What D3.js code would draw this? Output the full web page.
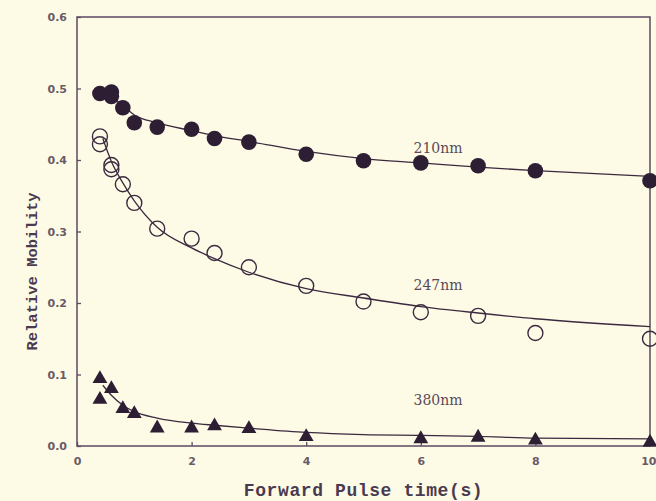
<!DOCTYPE html>
<html>
<head>
<meta charset="utf-8">
<script src="https://cdn.jsdelivr.net/npm/d3@7"></script>
<style>
  body { margin: 0; background: #fdfbe6; }
  svg { display: block; }
</style>
</head>
<body>
<svg></svg>
<script>
var width = 656;
var height = 501;
var ink = "#3b2a3f";
var frameColor = "#5e4a62";

// 210nm - filled circles
var x210 = [0.4, 0.6, 0.6, 0.8, 1.0, 1.4, 2.0, 2.4, 3.0, 4.0, 5.0, 6.0, 7.0, 8.0, 10.0];
var y210 = [0.493, 0.495, 0.489, 0.473, 0.452, 0.446, 0.443, 0.430, 0.425, 0.408, 0.399, 0.396, 0.392, 0.385, 0.371];
// 247nm - open circles
var x247 = [0.4, 0.4, 0.6, 0.6, 0.8, 1.0, 1.4, 2.0, 2.4, 3.0, 4.0, 5.0, 6.0, 7.0, 8.0, 10.0];
var y247 = [0.433, 0.422, 0.393, 0.387, 0.366, 0.340, 0.304, 0.290, 0.270, 0.250, 0.224, 0.202, 0.187, 0.182, 0.158, 0.150];
// 380nm - filled triangles
var x380 = [0.4, 0.4, 0.6, 0.8, 1.0, 1.4, 2.0, 2.4, 3.0, 4.0, 6.0, 7.0, 8.0, 10.0];
var y380 = [0.094, 0.065, 0.080, 0.052, 0.045, 0.025, 0.025, 0.028, 0.024, 0.013, 0.010, 0.012, 0.008, 0.005];

// fitted curves
var fit210x = [0.6, 0.8, 1.0, 1.4, 2.0, 2.4, 3.0, 4.0, 5.0, 6.0, 7.0, 8.0, 10.0];
var fit210y = [0.490, 0.476, 0.463, 0.452, 0.441, 0.434, 0.426, 0.412, 0.402, 0.396, 0.390, 0.385, 0.377];
var fit247x = [0.45, 0.6, 0.8, 1.0, 1.4, 2.0, 2.4, 3.0, 4.0, 5.0, 6.0, 7.0, 8.0, 10.0];
var fit247y = [0.430, 0.398, 0.368, 0.343, 0.306, 0.277, 0.262, 0.243, 0.220, 0.207, 0.195, 0.186, 0.178, 0.167];
var fit380x = [0.45, 0.6, 0.8, 1.0, 1.4, 2.0, 2.4, 3.0, 4.0, 5.0, 6.0, 7.0, 8.0, 10.0];
var fit380y = [0.085, 0.071, 0.057, 0.048, 0.039, 0.032, 0.029, 0.025, 0.019, 0.016, 0.015, 0.0135, 0.011, 0.010];

var xTicks = [0, 2, 4, 6, 8, 10];
var yTicks = [0.0, 0.1, 0.2, 0.3, 0.4, 0.5, 0.6];

var margin = { left: 77, right: 6, top: 17, bottom: 55 };

var svg = d3.select("svg")
    .attr("width", width)
    .attr("height", height);

svg.append("rect")
    .attr("width", width)
    .attr("height", height)
    .attr("fill", "#fdfbe6");

var x = d3.scaleLinear().domain([0, 10]).range([margin.left, width - margin.right]);
var y = d3.scaleLinear().domain([0, 0.6]).range([height - margin.bottom, margin.top]);

// frame
svg.append("rect")
    .attr("x", x(0))
    .attr("y", y(0.6))
    .attr("width", x(10) - x(0))
    .attr("height", y(0) - y(0.6))
    .attr("fill", "none")
    .attr("stroke", frameColor)
    .attr("stroke-width", 1.5);

// axes with inward ticks
var xAxis = svg.append("g")
    .attr("transform", "translate(0," + y(0) + ")")
    .call(d3.axisBottom(x).tickValues(xTicks).tickSizeInner(-4).tickSizeOuter(0).tickPadding(9).tickFormat(d3.format("d")));
var yAxis = svg.append("g")
    .attr("transform", "translate(" + x(0) + ",0)")
    .call(d3.axisLeft(y).tickValues(yTicks).tickSizeInner(-4).tickSizeOuter(0).tickPadding(10).tickFormat(d3.format(".1f")));

[xAxis, yAxis].forEach(function(g) {
    g.select(".domain").remove();
    g.selectAll(".tick line").attr("stroke", frameColor).attr("stroke-width", 1.3);
    g.selectAll(".tick text")
        .attr("fill", "#6a5a66")
        .style("font-family", "'DejaVu Sans', sans-serif")
        .style("font-weight", "bold")
        .style("font-size", "11px");
});
xAxis.selectAll(".tick text").attr("dy", "0.9em");
// last x label sits against the page edge
xAxis.selectAll(".tick text").filter(function(d) { return d === 10; })
    .attr("text-anchor", "end")
    .attr("x", 6);

// curves
var line = d3.line()
    .x(function(d) { return x(d[0]); })
    .y(function(d) { return y(d[1]); })
    .curve(d3.curveMonotoneX);

[[fit210x, fit210y], [fit247x, fit247y], [fit380x, fit380y]].forEach(function(f) {
    svg.append("path")
        .datum(d3.zip(f[0], f[1]))
        .attr("d", line)
        .attr("fill", "none")
        .attr("stroke", ink)
        .attr("stroke-width", 1.3);
});

// markers
svg.append("g").selectAll("circle")
    .data(d3.zip(x247, y247))
    .enter().append("circle")
    .attr("cx", function(d) { return x(d[0]); })
    .attr("cy", function(d) { return y(d[1]); })
    .attr("r", 7.5)
    .attr("fill", "none")
    .attr("stroke", ink)
    .attr("stroke-width", 1.4);

svg.append("g").selectAll("circle")
    .data(d3.zip(x210, y210))
    .enter().append("circle")
    .attr("cx", function(d) { return x(d[0]); })
    .attr("cy", function(d) { return y(d[1]); })
    .attr("r", 7.8)
    .attr("fill", "#2e1e34");

var tri = d3.symbol().type(d3.symbolTriangle).size(95);
svg.append("g").selectAll("path")
    .data(d3.zip(x380, y380))
    .enter().append("path")
    .attr("d", tri)
    .attr("transform", function(d) { return "translate(" + x(d[0]) + "," + y(d[1]) + ")"; })
    .attr("fill", "#2e1e34");

// curve labels
var labels = [["210nm", 0.41], ["247nm", 0.218], ["380nm", 0.058]];
svg.append("g").selectAll("text")
    .data(labels)
    .enter().append("text")
    .attr("x", x(6.3))
    .attr("y", function(d) { return y(d[1]); })
    .attr("text-anchor", "middle")
    .attr("fill", "#5a4a58")
    .style("font-family", "'DejaVu Serif', serif")
    .style("font-size", "14px")
    .text(function(d) { return d[0]; });

// axis titles
svg.append("text")
    .attr("x", (x(0) + x(10)) / 2)
    .attr("y", 496)
    .attr("text-anchor", "middle")
    .attr("fill", "#4a3a50")
    .style("font-family", "'Liberation Mono', monospace")
    .style("font-weight", "bold")
    .style("font-size", "18px")
    .style("letter-spacing", "0.6px")
    .text("Forward Pulse time(s)");

svg.append("text")
    .attr("transform", "translate(37," + ((y(0) + y(0.6)) / 2 + 40) + ") rotate(-90)")
    .attr("text-anchor", "middle")
    .attr("fill", "#4a3a50")
    .style("font-family", "'Liberation Mono', monospace")
    .style("font-weight", "bold")
    .style("font-size", "15.5px")
    .text("Relative Mobility");
</script>
</body>
</html>
